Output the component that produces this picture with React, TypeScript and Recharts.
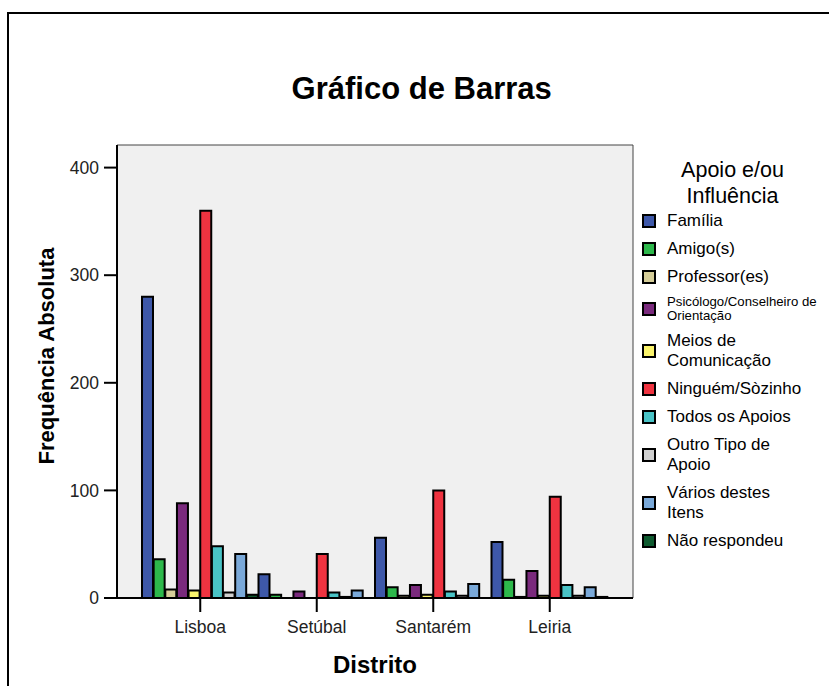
import React from "react";
import { BarChart, Bar, XAxis, YAxis, CartesianGrid, Legend } from "recharts";

// ── data ───────────────────────────────────────────────────────────────────
const DISTRICTS = ["Lisboa", "Setúbal", "Santarém", "Leiria"];
const Y_TICKS = [0, 100, 200, 300, 400];
const Y_MAX = 421;

const FAMILIA = [280, 22, 56, 52];
const AMIGOS = [36, 3, 10, 17];
const PROFESSORES = [8, 0, 2, 1];
const PSICOLOGO = [88, 6, 12, 25];
const MEIOS = [7, 0, 3, 2];
const NINGUEM = [360, 41, 100, 94];
const TODOS = [48, 5, 6, 12];
const OUTRO = [5, 1, 2, 2];
const VARIOS = [41, 7, 13, 10];
const NAO_RESPONDEU = [3, 0, 0, 1];

const SERIES_VALUES = [FAMILIA, AMIGOS, PROFESSORES, PSICOLOGO, MEIOS, NINGUEM, TODOS, OUTRO, VARIOS, NAO_RESPONDEU];
const SERIES_NAMES = [
  "Família",
  "Amigo(s)",
  "Professor(es)",
  "Psicólogo/Conselheiro de\nOrientação",
  "Meios de\nComunicação",
  "Ninguém/Sòzinho",
  "Todos os Apoios",
  "Outro Tipo de\nApoio",
  "Vários destes\nItens",
  "Não respondeu",
];

// ── styles ─────────────────────────────────────────────────────────────────
const COLORS = ["#3e58a9", "#2db84b", "#d5cd98", "#7a2a7d", "#fbf46c", "#ef3340", "#49c3c6", "#d0d0d0", "#7aa9d9", "#0e5a2f"];
const FONT = '"Liberation Sans", Arial, Helvetica, sans-serif';
const TICK = { fontSize: 17.5, fill: "#222", fontFamily: FONT };
const AXIS = { stroke: "#000", strokeWidth: 2 };

const rows = DISTRICTS.map((d, i) => {
  const row: Record<string, string | number> = { distrito: d };
  SERIES_VALUES.forEach((vals, s) => { row[`s${s}`] = vals[i]; });
  return row;
});

function LegendBox() {
  return (
    <div style={{ width: 185, color: "#000", fontFamily: FONT }}>
      <div style={{ textAlign: "center", fontSize: 21.5, lineHeight: "26px", marginBottom: -2 }}>
        Apoio e/ou<br />Influência
      </div>
      {SERIES_NAMES.map((name, i) => {
        const small = i === 3;
        return (
          <div key={name} style={{ display: "flex", alignItems: "center", padding: "4px 0" }}>
            <span style={{ width: 10, height: 10, border: "2px solid #000", background: COLORS[i], marginLeft: 2, marginRight: 11, flex: "none" }} />
            <span style={{ whiteSpace: "pre-line", fontSize: small ? 13.2 : 17, lineHeight: small ? "14px" : "20px" }}>{name}</span>
          </div>
        );
      })}
    </div>
  );
}

export default function App() {
  return (
    <div style={{ position: "absolute", left: 0, top: 0, width: 829, height: 686, overflow: "hidden", background: "#fff", fontFamily: FONT }}>
      <BarChart
        width={829}
        height={686}
        data={rows}
        margin={{ top: 145, right: 196, bottom: 38, left: 57 }}
        barCategoryGap={0}
        barGap={0.65}
      >
        {/* grey plot background plus the thin frame on its top and right edges */}
        <CartesianGrid
          fill="#f0f0f0"
          stroke="#444"
          strokeWidth={1}
          horizontalCoordinatesGenerator={({ offset }: any) => [offset.top]}
          verticalCoordinatesGenerator={({ offset }: any) => [offset.left + offset.width]}
        />
        <XAxis
          dataKey="distrito"
          height={50}
          padding={{ left: 25, right: 25 }}
          tick={TICK}
          tickSize={14}
          tickMargin={9}
          tickLine={AXIS}
          axisLine={AXIS}
          label={{ value: "Distrito", position: "bottom", offset: 8, fontSize: 24, fontWeight: "bold", fill: "#000", fontFamily: FONT }}
        />
        <YAxis
          width={60}
          domain={[0, Y_MAX]}
          ticks={Y_TICKS}
          tick={TICK}
          tickSize={13}
          tickMargin={5}
          tickLine={AXIS}
          axisLine={AXIS}
          label={() => (
            <text x={54} y={356} transform="rotate(-90 54 356)" textAnchor="middle" fontSize={22} fontWeight="bold" fill="#000" fontFamily={FONT}>
              Frequência Absoluta
            </text>
          )}
        />
        {SERIES_NAMES.map((name, i) => (
          <Bar key={name} dataKey={`s${i}`} name={name} fill={COLORS[i]} stroke="#000" strokeWidth={2} isAnimationActive={false} />
        ))}
        <Legend
          layout="vertical"
          align="center"
          verticalAlign="middle"
          content={() => <LegendBox />}
          wrapperStyle={{ left: 640, top: 157, width: 185 }}
        />
      </BarChart>
      <svg width={829} height={686} style={{ position: "absolute", left: 0, top: 0, pointerEvents: "none" }}>
        <rect x={8} y={13} width={900} height={900} fill="none" stroke="#000" strokeWidth={2} />
        <text x={421.7} y={99.3} textAnchor="middle" fontSize={31} fontWeight="bold" fill="#000" fontFamily={FONT}>
          Gráfico de Barras
        </text>
      </svg>
    </div>
  );
}
